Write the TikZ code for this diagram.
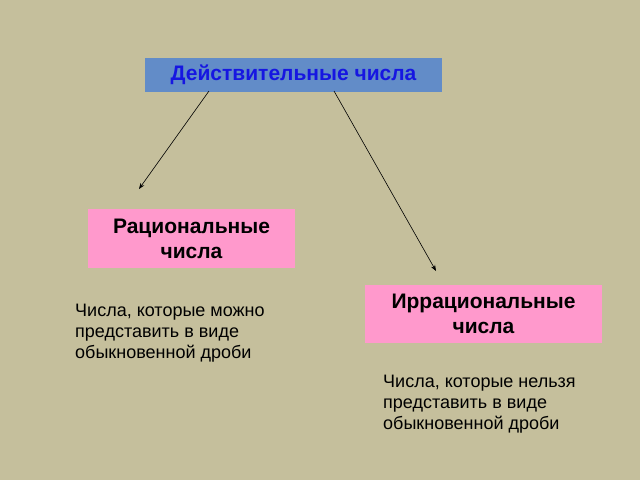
\documentclass[tikz,border=0pt]{standalone}
\usepackage{fontspec}
\setmainfont{Liberation Sans}
\usetikzlibrary{arrows.meta}
\definecolor{bg}{RGB}{197,191,156}
\definecolor{topblue}{RGB}{98,140,200}
\definecolor{txtblue}{RGB}{22,22,225}
\definecolor{pinkbox}{RGB}{255,153,204}
\tikzset{
  headbox/.style={fill=topblue, draw=none, minimum width=297pt, minimum height=34pt, inner sep=0pt,
    font=\fontsize{21}{24}\selectfont\bfseries, text=txtblue},
  kindbox/.style={fill=pinkbox, draw=none, inner sep=0pt, align=center,
    font=\fontsize{21}{25}\selectfont\bfseries, text=black},
  note/.style={inner sep=0pt, align=left, anchor=north west,
    font=\fontsize{18}{21}\selectfont, text=black},
  arr/.style={draw=black, line width=0.6pt, -{Stealth[length=6pt,width=4.5pt]}}
}
\begin{document}
\begin{tikzpicture}[x=1pt,y=-1pt]
\fill[bg] (0,0) rectangle (640,480);
\useasboundingbox (0,0) rectangle (640,480);
\node[headbox] (top) at (293.5,75) {Действительные числа};
\node[kindbox, minimum width=207pt, minimum height=59pt] (rat) at (191.5,238.5) {Рациональные\\числа};
\node[kindbox, minimum width=237pt, minimum height=58pt] (irr) at (483.5,314) {Иррациональные\\числа};
\node[note] (ratnote) at (75,304) {Числа, которые можно\\представить в виде\\обыкновенной дроби};
\node[note] (irrnote) at (383,375) {Числа, которые нельзя\\представить в виде\\обыкновенной дроби};
\coordinate (s1) at (209,91);
\coordinate (e1) at (139,189);
\coordinate (s2) at (334,91);
\coordinate (e2) at (436,271);
\draw[arr] (s1) -- (e1);
\draw[arr] (s2) -- (e2);
\end{tikzpicture}
\end{document}
